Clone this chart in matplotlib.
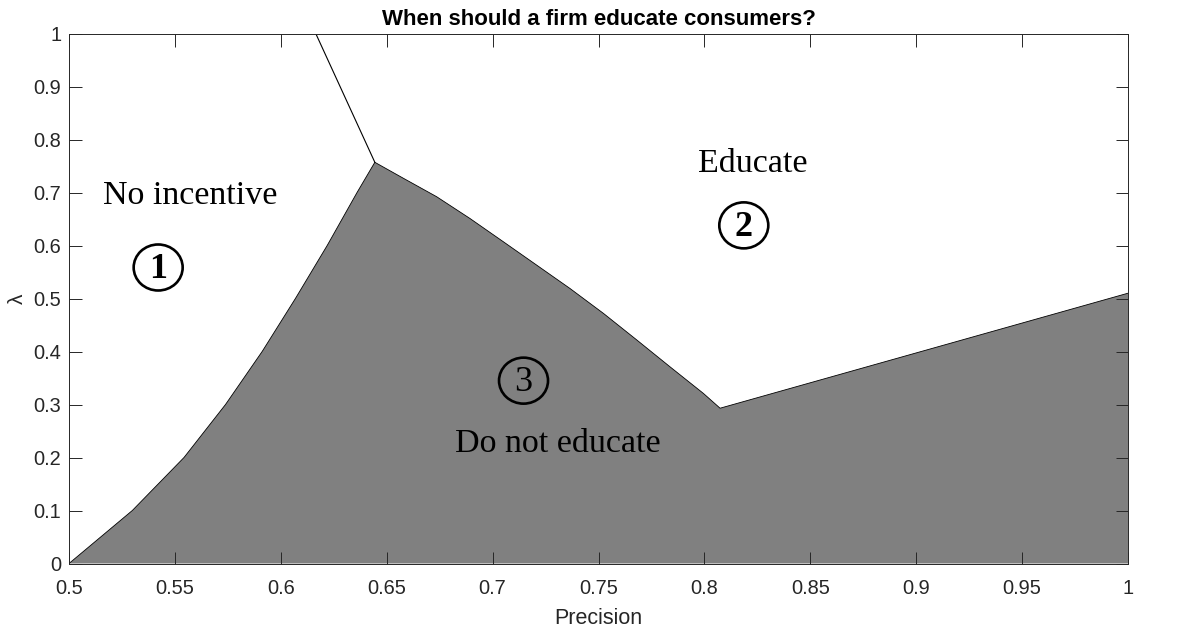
import matplotlib
matplotlib.use("Agg")
import matplotlib.pyplot as plt
from matplotlib.patches import Ellipse

# ---- data ----
left_x = [0.5, 0.5299, 0.5543, 0.5739, 0.5912, 0.6069, 0.6219, 0.6360, 0.6444]
left_y = [0.0, 0.1, 0.2, 0.3, 0.4, 0.5, 0.6, 0.7, 0.757]
desc_x = [0.6444, 0.6578, 0.6736, 0.6893, 0.7051, 0.7208, 0.7365, 0.7523, 0.7680, 0.7838, 0.7995, 0.8074]
desc_y = [0.757, 0.727, 0.692, 0.651, 0.607, 0.563, 0.519, 0.472, 0.422, 0.371, 0.321, 0.293]
right_x = [0.8074, 1.0]
right_y = [0.293, 0.51]
upper_x = [0.6444, 0.6165]
upper_y = [0.757, 1.0]

region_labels = ["No incentive", "Educate", "Do not educate"]
label_x = [0.557, 0.8226, 0.7307]
label_y = [0.693, 0.754, 0.225]
circle_digits = ["1", "2", "3"]
circle_bold = [True, True, False]
circle_x = [0.5421, 0.8186, 0.7146]
circle_y = [0.5585, 0.638, 0.345]

xticks = [0.5, 0.55, 0.6, 0.65, 0.7, 0.75, 0.8, 0.85, 0.9, 0.95, 1.0]
xticklabels = ["0.5", "0.55", "0.6", "0.65", "0.7", "0.75", "0.8", "0.85", "0.9", "0.95", "1"]
yticks = [0, 0.1, 0.2, 0.3, 0.4, 0.5, 0.6, 0.7, 0.8, 0.9, 1.0]
yticklabels = ["0", "0.1", "0.2", "0.3", "0.4", "0.5", "0.6", "0.7", "0.8", "0.9", "1"]

title = "When should a firm educate consumers?"
xlabel = "Precision"
ylabel = "λ"

# ---- figure ----
plt.rcParams['font.family'] = ['Liberation Sans', 'DejaVu Sans']
W, H = 1196, 631
fig = plt.figure(figsize=(W / 100, H / 100), dpi=100)
ax_l, ax_r, ax_t, ax_b = 69, 1128, 33.5, 563.5
ax = fig.add_axes([ax_l / W, 1 - ax_b / H, (ax_r - ax_l) / W, (ax_b - ax_t) / H])

axc = '#262626'
bx = left_x + desc_x[1:] + right_x[1:]
by = left_y + desc_y[1:] + right_y[1:]
poly_x = bx + [1.0, 0.5]
poly_y = by + [0.0, 0.0]
ax.fill(poly_x, poly_y, color='#808080', lw=0, zorder=1)
ax.plot(bx, by, color='black', lw=0.6, zorder=2, solid_joinstyle='round')
ax.plot(upper_x, upper_y, color='black', lw=0.8, zorder=2)

serif = ['Liberation Serif', 'DejaVu Serif']
for t, x, y in zip(region_labels, label_x, label_y):
    ax.text(x, y, t, family=serif, fontsize=24.5, ha='center', va='center', color='black', zorder=4)

# circle size in pixels converted to data units
px_x = 0.5 / (ax_r - ax_l)
px_y = 1.0 / (ax_b - ax_t)
for d, b, x, y in zip(circle_digits, circle_bold, circle_x, circle_y):
    ax.add_patch(Ellipse((x, y), 49 * px_x, 46 * px_y, facecolor='none',
                         edgecolor='black', lw=1.9, zorder=3))
    ax.text(x, y - 0.004, d, family=serif, fontsize=26, ha='center', va='center',
            fontweight='bold' if b else 'normal', color='black', zorder=4)

ax.set_xlim(0.5, 1.0)
ax.set_ylim(0, 1)
ax.set_xticks(xticks)
ax.set_xticklabels(xticklabels)
ax.set_yticks(yticks)
ax.set_yticklabels(yticklabels)
ax.tick_params(direction='in', length=9, width=0.7, colors=axc, labelsize=14.4,
               top=True, right=True)
ax.tick_params(axis='x', pad=11)
ax.tick_params(axis='y', pad=5.5)
for s in ax.spines.values():
    s.set_color(axc)
    s.set_linewidth(0.7)
ax.set_title(title, fontsize=16, fontweight='bold', color='black', pad=6)
ax.set_xlabel(xlabel, fontsize=15.5, color=axc, labelpad=7)
ax.set_ylabel(ylabel, fontsize=15, color=axc)
ax.yaxis.set_label_coords(-0.0396, 0.5)

fig.savefig('out.png', dpi=100)
